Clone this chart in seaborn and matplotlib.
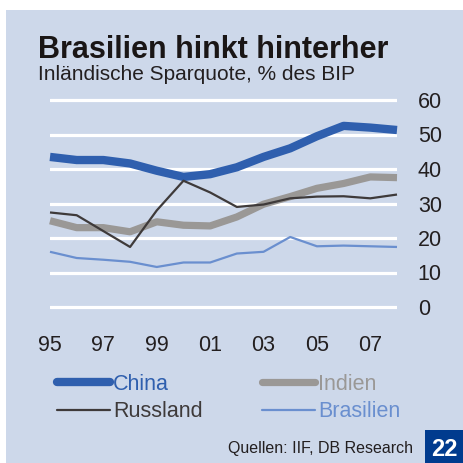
import matplotlib
matplotlib.use("Agg")
import matplotlib.pyplot as plt
import seaborn as sns
import pandas as pd
from matplotlib.patches import Rectangle
from matplotlib.lines import Line2D

years = list(range(1995, 2009))
china = [43.5, 42.6, 42.6, 41.6, 39.5, 37.7, 38.5, 40.5, 43.5, 46.0, 49.5, 52.5, 52.0, 51.3]
indien = [25.0, 23.0, 23.0, 21.8, 24.7, 23.7, 23.5, 26.1, 29.8, 32.0, 34.4, 35.8, 37.7, 37.5]
russland = [27.4, 26.6, 22.0, 17.4, 28.0, 36.6, 33.2, 29.0, 29.7, 31.5, 32.0, 32.1, 31.5, 32.6]
brasilien = [16.0, 14.2, 13.7, 13.1, 11.6, 12.9, 12.9, 15.5, 16.0, 20.3, 17.6, 17.8, 17.6, 17.4]
series_names = ["China", "Indien", "Russland", "Brasilien"]
xtick_years = [1995, 1997, 1999, 2001, 2003, 2005, 2007]
xtick_labels = ["95", "97", "99", "01", "03", "05", "07"]
yticks = [0, 10, 20, 30, 40, 50, 60]

title = "Brasilien hinkt hinterher"
subtitle = "Inländische Sparquote, % des BIP"
source = "Quellen: IIF, DB Research"
badge = "22"

df = pd.DataFrame({"Jahr": years * 4,
                   "Wert": china + indien + russland + brasilien,
                   "Land": sum([[n] * len(years) for n in series_names], [])})

colors = {"China": "#2f5fae", "Indien": "#9a9896", "Russland": "#3e3a3a", "Brasilien": "#6a8fcf"}
widths = {"China": 6.0, "Indien": 5.2, "Russland": 1.6, "Brasilien": 1.6}

sns.set_theme(style="white")
plt.rcParams["font.family"] = ["Liberation Sans", "DejaVu Sans"]

W = H = 463
fig = plt.figure(figsize=(4.63, 4.63), dpi=100, facecolor="white")
bg = "#cdd8ea"
fig.add_artist(Rectangle((6 / W, 0), 1 - 6 / W, 1 - 10 / H, transform=fig.transFigure,
                         facecolor=bg, edgecolor="none", zorder=0))

# axes: x 1995 at px 50, 2008 at px 397; y 0 at px 307, 60 at px 100
ymin, ymax = -2, 62
ppu = (307 - 100) / 60
top_px = 100 - (ymax - 60) * ppu
bot_px = 307 + (0 - ymin) * ppu
ax = fig.add_axes([50 / W, 1 - bot_px / H, (397 - 50) / W, (bot_px - top_px) / H])
ax.set_facecolor(bg)
ax.patch.set_alpha(0)

for name in series_names:
    sub = df[df["Land"] == name]
    sns.lineplot(data=sub, x="Jahr", y="Wert", ax=ax, color=colors[name],
                 linewidth=widths[name], legend=False, clip_on=False,
                 solid_capstyle="butt", solid_joinstyle="round", zorder=3)

ax.set_xlim(1995, 2008)
ax.set_ylim(ymin, ymax)
for s in ax.spines.values():
    s.set_visible(False)
ax.set_yticks(yticks)
for yv in yticks:
    ax.axhline(yv, color="white", linewidth=2.3, zorder=1)
ax.grid(False)
ax.yaxis.tick_right()
ax.set_xticks(xtick_years)
ax.set_xticklabels(xtick_labels)
ax.tick_params(axis="y", length=0, pad=15, labelsize=15.5, labelcolor="#231f20")
ax.tick_params(axis="x", length=0, pad=15, labelsize=15.5, labelcolor="#231f20")
ax.set_xlabel("")
ax.set_ylabel("")

fig.text(38 / W, 1 - 58 / H, title, fontsize=22, fontweight="heavy", color="#1a1616",
         va="baseline", ha="left")
fig.text(38 / W, 1 - 80 / H, subtitle, fontsize=15, color="#231f20", va="baseline", ha="left")

order = ["China", "Russland", "Indien", "Brasilien"]
leg_handles = [Line2D([], [], color=colors[n], linewidth=widths[n], solid_capstyle="round")
               for n in order]
leg = fig.legend(leg_handles, order, ncol=2, loc="upper left",
                 bbox_to_anchor=(57 / W, 1 - 374 / H), frameon=False, fontsize=15.5,
                 handlelength=2.45, handletextpad=0.15, columnspacing=2.75, labelspacing=0.3,
                 labelcolor=[colors[n] for n in order], borderaxespad=0, borderpad=0)

fig.text(413 / W, 1 - 453 / H, source, fontsize=11.5, color="#231f20", ha="right", va="baseline")
fig.add_artist(Rectangle((425 / W, 0), 1 - 425 / W, 33 / H, transform=fig.transFigure,
                         facecolor="#003b8e", edgecolor="none", zorder=2))
fig.text(444 / W, 1 - 456 / H, badge, fontsize=17, fontweight="bold", color="white",
         ha="center", va="baseline", zorder=3)

fig.savefig("out.png", dpi=100, facecolor="white")
